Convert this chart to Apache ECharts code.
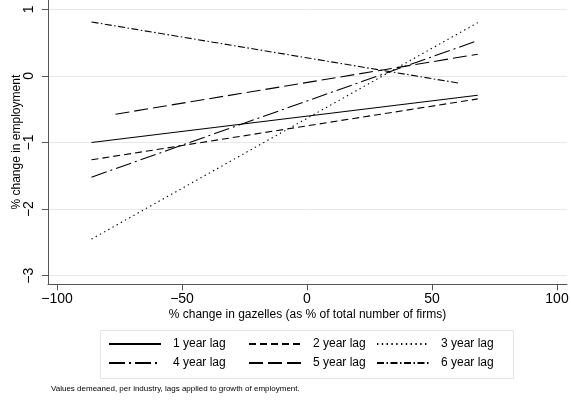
<!DOCTYPE html>
<html>
<head>
<meta charset="utf-8">
<script src="https://cdn.jsdelivr.net/npm/echarts@6/dist/echarts.min.js"></script>
<style>
html,body{margin:0;padding:0;background:#fff;}
#chart{width:571px;height:401px;}
</style>
</head>
<body>
<div id="chart"></div>
<script>
// ---- data ----
const seriesNames = ['1 year lag', '2 year lag', '3 year lag', '4 year lag', '5 year lag', '6 year lag'];
const xStart = [-86.2, -86.2, -86.2, -86.2, -76.6, -86.2];
const xEnd   = [68.3, 68.3, 68.3, 68.3, 68.3, 61.1];
const yStart = [-1.00, -1.26, -2.45, -1.52, -0.575, 0.81];
const yEnd   = [-0.29, -0.345, 0.80, 0.53, 0.326, -0.11];
const xTicks = [-100, -50, 0, 50, 100];
const yTicks = [-3, -2, -1, 0, 1];
const xAxisTitle = '% change in gazelles (as % of total number of firms)';
const yAxisTitle = '% change in employment';
const footnote = 'Values demeaned, per industry, lags applied to growth of employment.';

// ---- styles ----
const FONT = 'Liberation Sans, Arial, Helvetica, sans-serif';
const dashTypes = ['solid', [7, 4], [1.4, 3.4], [16, 4, 2, 4], [14, 5], [7, 2.5, 1.5, 2.5]];
const minusFmt = v => String(v).replace('-', '\u2212');

const chart = echarts.init(document.getElementById('chart'), null, {renderer: 'canvas'});

const series = seriesNames.map((name, i) => ({
  name: name,
  type: 'line',
  data: [[xStart[i], yStart[i]], [xEnd[i], yEnd[i]]],
  symbol: 'none',
  showSymbol: false,
  silent: true,
  clip: false,
  lineStyle: {color: '#000', width: 1.1, type: dashTypes[i]},
  itemStyle: {color: '#000'}
}));

const legendCols = [
  {left: 108, names: [seriesNames[0], seriesNames[3]]},
  {left: 248, names: [seriesNames[1], seriesNames[4]]},
  {left: 376, names: [seriesNames[2], seriesNames[5]]}
];

const option = {
  backgroundColor: '#fff',
  animation: false,
  textStyle: {fontFamily: FONT},
  grid: {left: 48, right: 4, top: 0, bottom: 116.7, containLabel: false, outerBoundsMode: 'none'},
  xAxis: {
    type: 'value',
    min: -103.6, max: 104,
    name: xAxisTitle,
    nameLocation: 'middle',
    nameGap: 24,
    nameMoveOverlap: false,
    nameTextStyle: {fontSize: 12, color: '#000', fontFamily: FONT},
    axisLine: {show: true, onZero: false, lineStyle: {color: '#555', width: 1}},
    axisTick: {show: true, length: 6, customValues: xTicks, lineStyle: {color: '#555'}},
    axisLabel: {show: true, customValues: xTicks, fontSize: 14, color: '#000', margin: 8, formatter: minusFmt, fontFamily: FONT},
    splitLine: {show: false}
  },
  yAxis: {
    type: 'value',
    min: -3.129, max: 1.14,
    name: yAxisTitle,
    nameLocation: 'middle',
    nameGap: 25,
    nameRotate: 90,
    nameMoveOverlap: false,
    nameTextStyle: {fontSize: 12, color: '#000', fontFamily: FONT},
    axisLine: {show: true, onZero: false, lineStyle: {color: '#555', width: 1}},
    axisTick: {show: true, length: 6, customValues: yTicks, lineStyle: {color: '#555'}},
    axisLabel: {show: true, customValues: yTicks, rotate: 90, fontSize: 14, color: '#000', margin: 12, formatter: minusFmt, fontFamily: FONT},
    splitLine: {show: true, lineStyle: {color: '#e8e8e8', width: 1}}
  },
  legend: legendCols.map(c => ({
    data: c.names,
    orient: 'vertical',
    left: c.left,
    top: 338,
    padding: 0,
    itemWidth: 52,
    itemHeight: 14,
    itemGap: 7,
    selectedMode: false,
    itemStyle: {opacity: 0, borderWidth: 0},
    textStyle: {fontSize: 12, color: '#000', fontFamily: FONT, padding: [0, 0, 0, 7]}
  })),
  graphic: [
    {
      type: 'rect',
      shape: {x: 100.5, y: 330.5, width: 413, height: 48},
      style: {fill: 'none', stroke: '#e4e4e4', lineWidth: 1},
      silent: true
    },
    {
      type: 'text',
      left: 51,
      top: 385,
      style: {text: footnote, fontSize: 8, fill: '#000', fontFamily: FONT},
      silent: true
    }
  ],
  series: series
};

chart.setOption(option);
</script>
</body>
</html>
